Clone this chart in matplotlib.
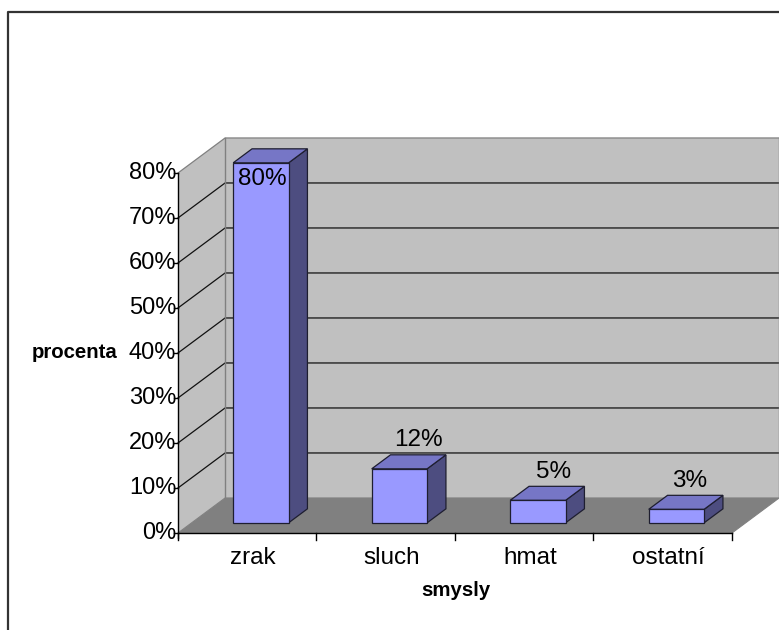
import matplotlib
matplotlib.use("Agg")
import matplotlib.pyplot as plt
from matplotlib.patches import Polygon

# data
kategorie = ["zrak", "sluch", "hmat", "ostatní"]
hodnoty = [80, 12, 5, 3]
popisky = ["80%", "12%", "5%", "3%"]
tick_hodnoty = [0, 10, 20, 30, 40, 50, 60, 70, 80]

plt.rcParams["font.family"] = ["Liberation Sans", "DejaVu Sans"]

# pseudo 3D: posun hloubky (v jednotkach dat) pro depth = 1
DX = 0.34
DY = 7.78
YMAX = 80


def p(x, y, d):
    return (x + DX * d, y + DY * d)


fig = plt.figure(figsize=(7.79, 6.30), dpi=100)
ax = fig.add_axes([0, 0, 1, 1])
ax.set_xlim(-1.2852, 4.3394)
ax.set_ylim(-21.56, 118.44)
ax.axis("off")

n = len(kategorie)

# ramecek grafu
ax.plot([-1.228, -1.228, 4.5], [-30, 115.8, 115.8], color="#333333",
        lw=1.6, clip_on=False, solid_capstyle="butt")

# zadni stena
ax.add_patch(Polygon([p(0, 0, 1), p(n, 0, 1), p(n, YMAX, 1), p(0, YMAX, 1)],
                     closed=True, fc="#C0C0C0", ec="none", zorder=1))
# leva stena
ax.add_patch(Polygon([p(0, 0, 0), p(0, 0, 1), p(0, YMAX, 1), p(0, YMAX, 0)],
                     closed=True, fc="#C0C0C0", ec="none", zorder=1))

# mrizka
for t in tick_hodnoty[1:]:
    x0, y0 = p(0, t, 0)
    x1, y1 = p(0, t, 1)
    x2, y2 = p(n, t, 1)
    col = "#808080" if t == YMAX else "#111111"
    ax.plot([x0, x1, x2], [y0, y1, y2], color=col, lw=0.9, zorder=2)

# okraje sten
x0, y0 = p(0, 0, 1)
x1, y1 = p(0, YMAX, 1)
ax.plot([x0, x1], [y0, y1], color="#808080", lw=1.0, zorder=2)
x2, y2 = p(n, YMAX, 1)
x3, y3 = p(n, 0, 1)
ax.plot([x2, x3], [y2, y3], color="#808080", lw=1.0, zorder=2)

# podlaha
ax.add_patch(Polygon([p(0, 0, 0), p(n, 0, 0), p(n, 0, 1), p(0, 0, 1)],
                     closed=True, fc="#808080", ec="#808080", lw=0.8, zorder=3))

# sloupce
sirka = 0.40
d0, d1 = 0.29, 0.69
for i, v in enumerate(hodnoty):
    xl = i + 0.5 - sirka / 2
    xr = i + 0.5 + sirka / 2
    front = [p(xl, 0, d0), p(xr, 0, d0), p(xr, v, d0), p(xl, v, d0)]
    top = [p(xl, v, d0), p(xr, v, d0), p(xr, v, d1), p(xl, v, d1)]
    side = [p(xr, 0, d0), p(xr, 0, d1), p(xr, v, d1), p(xr, v, d0)]
    ax.add_patch(Polygon(side, closed=True, fc="#4D4D80", ec="#1E1E30",
                         lw=0.9, zorder=5))
    ax.add_patch(Polygon(top, closed=True, fc="#7676C6", ec="#1E1E30",
                         lw=0.9, zorder=5))
    ax.add_patch(Polygon(front, closed=True, fc="#9999FF", ec="#1E1E30",
                         lw=0.9, zorder=6))

    # popisky hodnot
    if v == max(hodnoty):
        lx, ly = p(i + 0.5, v, d0)
        ax.text(lx + 0.01, ly - 3.6, popisky[i], ha="center", va="center",
                fontsize=17.5, zorder=7)
    else:
        lx, ly = p(i + 0.5, v, d1)
        ax.text(lx - 0.02 * i + 0.02, ly + 3.2, popisky[i], ha="center",
                va="center", fontsize=17.5, zorder=7)

# osy
ax.plot([0, 0], [-1.2, YMAX], color="black", lw=1.0, zorder=8)
ax.plot([0, n], [0, 0], color="black", lw=1.0, zorder=8)
for t in tick_hodnoty:
    ax.plot([-0.03, 0], [t, t], color="black", lw=1.0, zorder=8)
    ax.text(-0.012, t, f"{t}%", ha="right", va="center", fontsize=17)
for i in range(n + 1):
    ax.plot([i, i], [0, -1.5], color="black", lw=1.0, zorder=8)
for i, k in enumerate(kategorie):
    ax.text(i + 0.54, -5.6, k, ha="center", va="center", fontsize=17.5)

# nazvy os
ax.text(-0.745, 40.2, "procenta", ha="center", va="center", fontsize=14.7,
        fontweight="bold")
ax.text(2.01, -12.7, "smysly", ha="center", va="center", fontsize=14.7,
        fontweight="bold")

fig.savefig("out.png", dpi=100)
